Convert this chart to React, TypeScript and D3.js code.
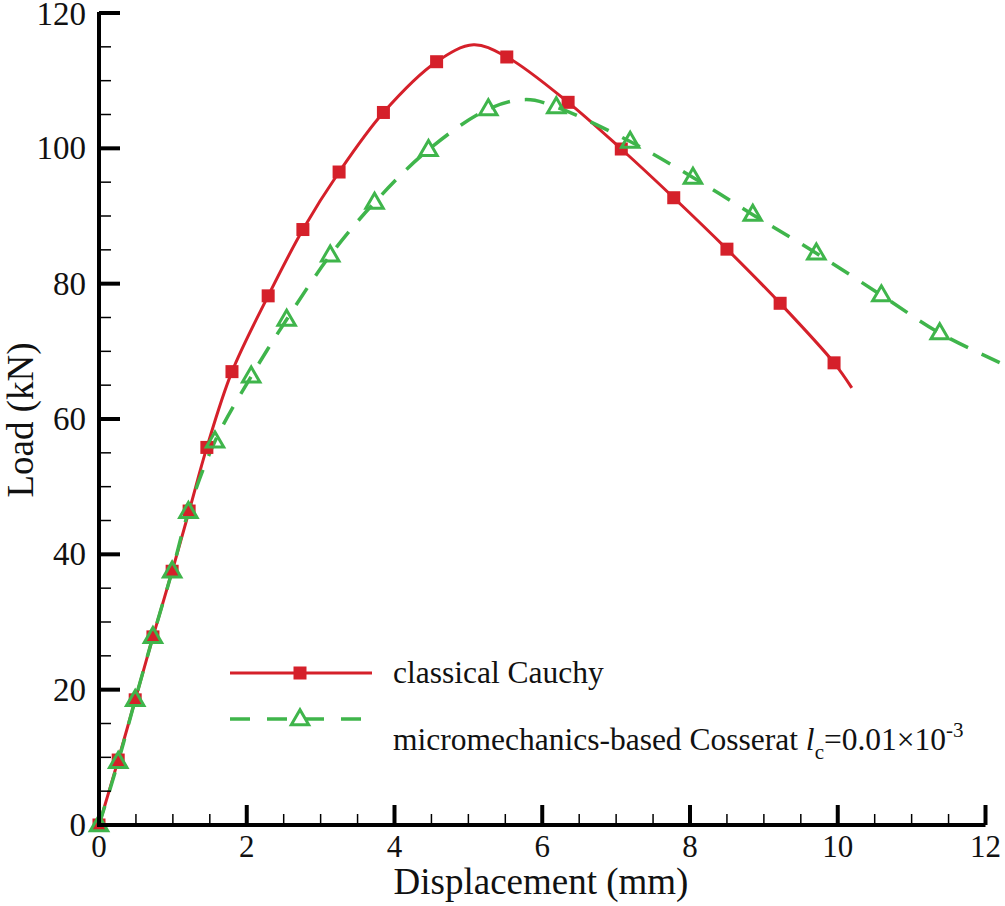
import React from 'react';
import * as d3 from 'd3';

// marker points
const cauchyX = [0, 0.26, 0.49, 0.73, 0.99, 1.22, 1.46, 1.8, 2.29, 2.76, 3.25, 3.85, 4.57, 5.52, 6.35, 7.07, 7.78, 8.5, 9.22, 9.95];
const cauchyY = [0, 9.6, 18.5, 27.8, 37.5, 46.4, 55.8, 67.0, 78.2, 88.0, 96.5, 105.3, 112.8, 113.5, 106.8, 99.9, 92.7, 85.1, 77.1, 68.3];
// extra points the curve passes through (peak and end)
const cauchyPeak = [5.07, 115.3];
const cauchyEnd = [10.19, 64.6];

const cosseratX = [0, 0.26, 0.49, 0.73, 0.99, 1.21, 1.57, 2.06, 2.54, 3.13, 3.73, 4.46, 5.27, 6.19, 7.19, 8.04, 8.85, 9.71, 10.59, 11.38];
const cosseratY = [0, 9.35, 18.5, 27.8, 37.5, 46.3, 56.7, 66.3, 74.7, 84.2, 92.0, 99.8, 105.8, 106.1, 101.0, 95.7, 90.2, 84.5, 78.3, 72.7];
const cosseratPeak = [5.78, 107.2];
const cosseratEnd = [12.22, 68.2];

const xTicks = [0, 2, 4, 6, 8, 10, 12];
const yTicks = [0, 20, 40, 60, 80, 100, 120];
const xMinor = d3.range(0, 12.01, 0.5);
const yMinor = d3.range(0, 120.1, 5);

const RED = '#d5202a';
const GREEN = '#3fb54b';
const FONT = 'Liberation Serif';

const W = 1005;
const H = 906;

const x = d3.scaleLinear().domain([0, 12]).range([99, 985.5]);
const y = d3.scaleLinear().domain([0, 120]).range([825, 13]);

type Pt = [number, number];

function withExtras(xs: number[], ys: number[], extras: number[][]): Pt[] {
  const pts: Pt[] = xs.map((v, i) => [v, ys[i]]);
  extras.forEach((e) => pts.push([e[0], e[1]]));
  return pts.sort((a, b) => a[0] - b[0]);
}

const line = d3
  .line<Pt>()
  .x((d) => x(d[0]))
  .y((d) => y(d[1]))
  .curve(d3.curveCatmullRom.alpha(0.5));

const triPath = (cx: number, cy: number, s: number) =>
  `M${cx},${cy - s * 0.62}L${cx + s * 0.58},${cy + s * 0.38}L${cx - s * 0.58},${cy + s * 0.38}Z`;

const txt: React.CSSProperties = { fontFamily: FONT };

export default function App() {
  const cauchyPts = withExtras(cauchyX, cauchyY, [cauchyPeak, cauchyEnd]);
  const cosseratPts = withExtras(cosseratX, cosseratY, [cosseratPeak, cosseratEnd]);

  return (
    <svg
      width={W}
      height={H}
      style={{ position: 'absolute', left: 0, top: 0, background: '#fff', fontFamily: FONT }}
    >
      {/* curves */}
      <path d={line(cauchyPts) || ''} fill="none" stroke={RED} strokeWidth={3} />
      <path
        d={line(cosseratPts) || ''}
        fill="none"
        stroke={GREEN}
        strokeWidth={3.5}
        strokeDasharray="20,15"
      />

      {/* markers */}
      {cauchyX.map((v, i) => (
        <rect key={'c' + i} x={x(v) - 6.5} y={y(cauchyY[i]) - 6.5} width={13} height={13} fill={RED} />
      ))}
      {cosseratX.map((v, i) => (
        <path
          key={'m' + i}
          d={triPath(x(v), y(cosseratY[i]), 15)}
          fill="none"
          stroke={GREEN}
          strokeWidth={3}
        />
      ))}

      {/* axes */}
      <line x1={x(0)} x2={x(12)} y1={y(0)} y2={y(0)} stroke="#000" strokeWidth={4} />
      <line x1={x(0)} x2={x(0)} y1={y(0) + 2} y2={y(120) - 1} stroke="#000" strokeWidth={4} />

      {xMinor.map((t) => (
        <line key={'xm' + t} x1={x(t)} x2={x(t)} y1={y(0)} y2={y(0) - 11} stroke="#000" strokeWidth={1.5} />
      ))}
      {xTicks.map((t) => (
        <line key={'xt' + t} x1={x(t)} x2={x(t)} y1={y(0)} y2={y(0) - 20} stroke="#000" strokeWidth={4} />
      ))}
      {yMinor.map((t) => (
        <line key={'ym' + t} x1={x(0)} x2={x(0) + 12} y1={y(t)} y2={y(t)} stroke="#000" strokeWidth={1.5} />
      ))}
      {yTicks.map((t) => (
        <line key={'yt' + t} x1={x(0)} x2={x(0) + 21} y1={y(t)} y2={y(t)} stroke="#000" strokeWidth={4} />
      ))}

      {xTicks.map((t) => (
        <text key={'xl' + t} x={x(t)} y={857} textAnchor="middle" fontSize={31} fill="#111" style={txt}>
          {t}
        </text>
      ))}
      {yTicks.map((t) => (
        <text key={'yl' + t} x={86} y={Math.max(y(t) + 11, 25)} textAnchor="end" fontSize={33} fill="#111" style={txt}>
          {t}
        </text>
      ))}

      {/* axis titles */}
      <text x={541} y={894} textAnchor="middle" fontSize={37} fill="#111" style={txt}>
        Displacement (mm)
      </text>
      <text
        transform={`translate(33,${420}) rotate(-90)`}
        textAnchor="middle"
        fontSize={37}
        fill="#111"
        style={txt}
      >
        Load (kN)
      </text>

      {/* legend */}
      <line x1={230} x2={372} y1={673} y2={673} stroke={RED} strokeWidth={3} />
      <rect x={300 - 6.5} y={673 - 6.5} width={13} height={13} fill={RED} />
      <text x={393} y={683} fontSize={31.5} fill="#111" style={txt}>
        classical Cauchy
      </text>

      <line x1={230} x2={372} y1={719} y2={719} stroke={GREEN} strokeWidth={3.5} strokeDasharray="20,17" />
      <path d={triPath(300, 719, 15)} fill="#fff" stroke={GREEN} strokeWidth={3} />
      <text x={393} y={750} fontSize={31.5} fill="#111" style={txt}>
        micromechanics-based Cosserat{' '}
        <tspan fontStyle="italic">l</tspan>
        <tspan fontSize={21} dy={9}>c</tspan>
        <tspan dy={-9}>=0.01×10</tspan>
        <tspan fontSize={21} dy={-13}>-3</tspan>
      </text>
    </svg>
  );
}
